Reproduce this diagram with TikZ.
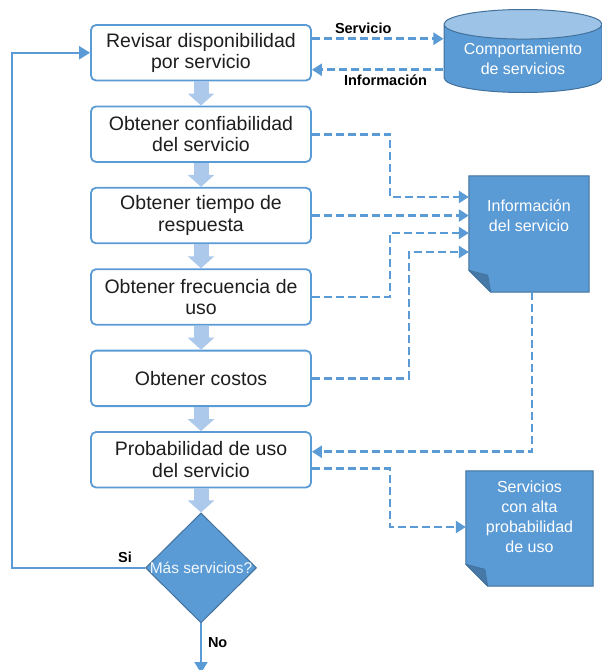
\documentclass[tikz,border=0pt]{standalone}
\usepackage{fontspec}
\setmainfont{Liberation Sans}
\usetikzlibrary{positioning,shapes.geometric,arrows.meta,backgrounds}

\definecolor{azul}{RGB}{91,155,213}
\definecolor{azuloscuro}{RGB}{65,113,156}
\definecolor{azulclaro}{RGB}{157,195,230}
\definecolor{azulpalido}{RGB}{172,200,234}
\definecolor{gristexto}{RGB}{30,30,30}

\begin{document}
\begin{tikzpicture}[x=1pt,y=1pt,node distance=24.1pt,
    paso/.style={rectangle,rounded corners=5pt,draw=azul,line width=1.8pt,fill=white,
      minimum width=220pt,minimum height=55.5pt,inner sep=0pt,align=center,
      text=gristexto,font=\fontsize{19.5}{21.5}\selectfont},
    flecha/.style={draw=azulpalido,line width=15pt,-{Triangle[length=12pt,width=26pt]}},
    guion/.style={draw=azul,line width=2.8pt,dash pattern=on 8pt off 4pt,
      -{Triangle[length=10pt,width=12pt]}},
    bucle/.style={draw=azul,line width=2pt,-{Triangle[length=11pt,width=13pt]}},
    etiq/.style={font=\fontsize{14.5}{16}\selectfont\bfseries,text=black,inner sep=1pt},
    hoja/.style={inner sep=0pt},
    hojatexto/.style={text=white,align=center,inner sep=0pt,
      font=\fontsize{16}{20}\selectfont},
    documento/.style={fill=azul,draw=azuloscuro,line width=1pt},
    pliegue/.style={fill=azuloscuro!80!azul,draw=azuloscuro,line width=0.6pt,line join=round},
    decision/.style={diamond,draw=azuloscuro,fill=azul,line width=1pt,
      minimum width=111pt,minimum height=110pt,inner sep=0pt},
    basedatos/.style={cylinder,shape border rotate=90,aspect=0.25,draw=azuloscuro,
      line width=1pt,cylinder uses custom fill,cylinder body fill=azul,
      cylinder end fill=azulclaro,minimum width=158pt,minimum height=83pt,
      inner sep=0pt,text=white,align=center,font=\fontsize{16}{20}\selectfont}]
  \useasboundingbox (0,0) rectangle (602,-670);

  % pasos del flujo
  \node[paso] (revisar) at (201,-52.75) {Revisar disponibilidad\\por servicio};
  \node[paso,below=of revisar] (confiab) {Obtener confiabilidad\\del servicio};
  \node[paso,below=of confiab] (tiempo) {Obtener tiempo de\\respuesta};
  \node[paso,below=of tiempo] (frecuencia) {Obtener frecuencia de\\uso};
  \node[paso,below=of frecuencia] (costos) {Obtener costos};
  \node[paso,below=of costos] (prob) {Probabilidad de uso\\del servicio};
  \node[decision,below=24pt of prob] (mas) {};
  \node[text=white!92!azul,font=\fontsize{15.5}{18}\selectfont,inner sep=0pt] (mastexto) at (mas) {Más servicios?};

  % almacenes
  \node[basedatos,anchor=north] (comport) at (523,-9) {Comportamiento\\de servicios};
  \node[hoja,minimum width=120pt,minimum height=116pt] (info) at (529,-234) {};
  \node[hojatexto,below=24pt of info.north] (infotexto) {Información\\del servicio};
  \node[hoja,minimum width=127pt,minimum height=115pt] (servalta) at (529.5,-528.5) {};
  \node[hojatexto,below=10pt of servalta.north] (servtexto) {Servicios\\con alta\\probabilidad\\de uso};

  \begin{scope}[on background layer]
    \foreach \d in {info,servalta}{
      \draw[documento] (\d.north west) -- (\d.north east) -- (\d.south east)
        -- ([xshift=22pt]\d.south west) -- ([yshift=22pt]\d.south west) -- cycle;
      \draw[pliegue] ([yshift=22pt]\d.south west) -- ([xshift=19pt,yshift=17pt]\d.south west)
        -- ([xshift=22pt]\d.south west) -- cycle;
    }
  \end{scope}

  % flechas gruesas entre pasos
  \foreach \a/\b in {revisar/confiab,confiab/tiempo,tiempo/frecuencia,frecuencia/costos,costos/prob,prob/mas}
    \draw[flecha] (\a.south) -- (\a.south |- \b.north);

  % conectores de datos
  \draw[guion] ([yshift=14pt]revisar.east) -- ([yshift=14pt]revisar.east -| comport.west)
    node[etiq,pos=0.39,above=3pt]{Servicio};
  \draw[guion] ([yshift=-17pt]revisar.east -| comport.west) -- ([yshift=-17pt]revisar.east)
    node[etiq,pos=0.44,below=3pt]{Información};
  \draw[guion] (confiab.east) -- ++(78pt,0) |- ([yshift=37pt]info.west);
  \draw[guion] (tiempo.east) -- (tiempo.east -| info.west);
  \draw[guion] (frecuencia.east) -- ++(78pt,0) |- ([yshift=1pt]info.west);
  \draw[guion] (costos.east) -- ++(97pt,0) |- ([yshift=-18pt]info.west);
  \draw[guion] ([xshift=3pt]info.south) |- ([yshift=8pt]prob.east);
  \draw[guion] ([yshift=-9pt]prob.east) -- ++(78pt,0) |- ([yshift=1.5pt]servalta.west);

  % decision
  \coordinate (vuelta) at (12,0);
  \coordinate (fin) at (0,-673);
  \draw[bucle] (mas.west) -- node[etiq,pos=0.15,above=3pt]{Si} (mas.west -| vuelta) |- (revisar.west);
  \draw[bucle] (mas.south) -- node[etiq,pos=0.38,right=5pt]{No} (mas.south |- fin);
\end{tikzpicture}
\end{document}
